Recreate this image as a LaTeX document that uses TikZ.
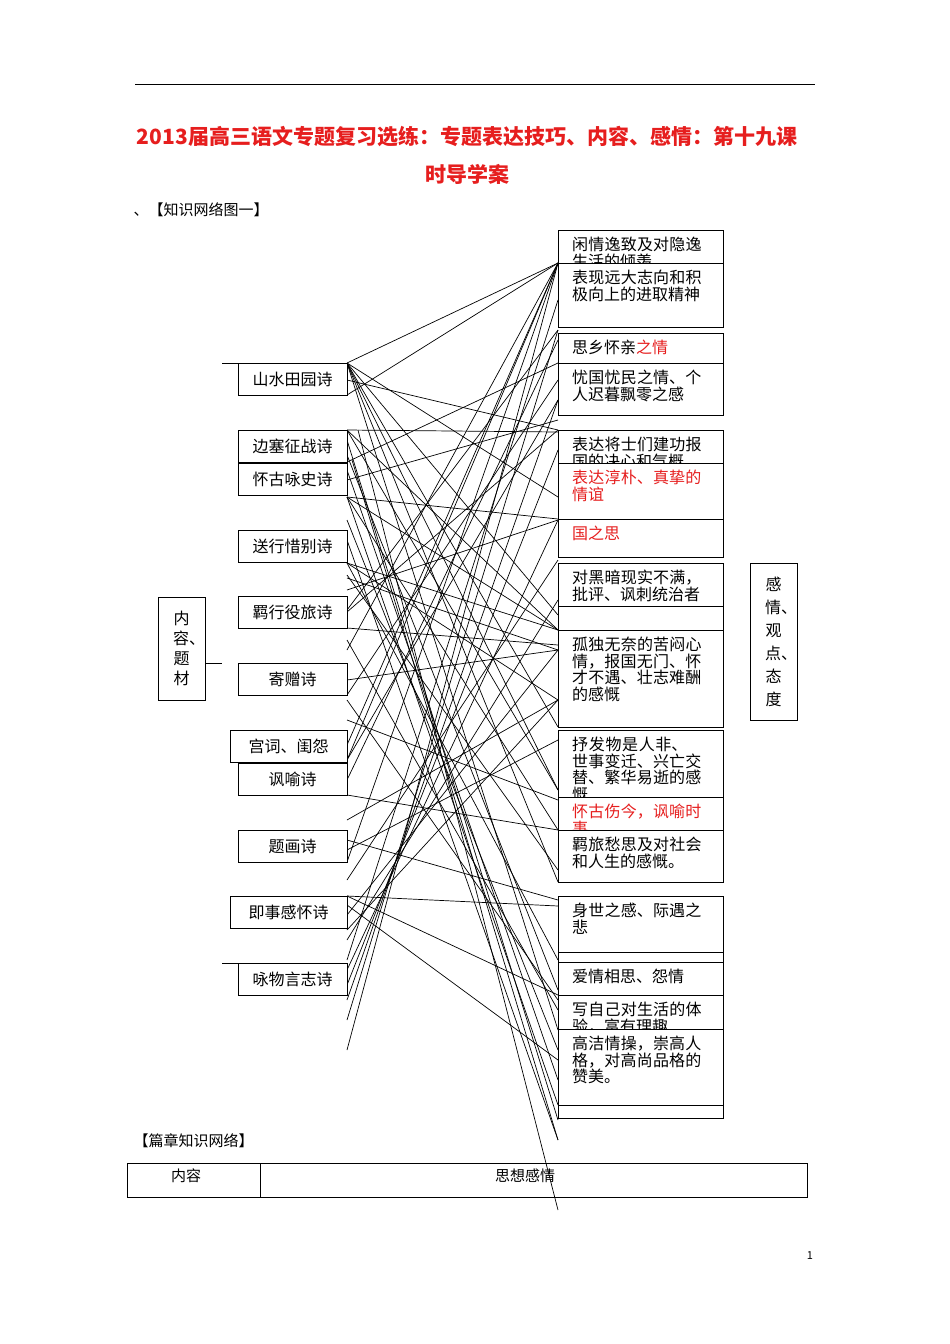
\documentclass[tikz,border=0pt]{standalone}
\usepackage{fontspec}
\setmainfont{Noto Sans CJK SC}
\XeTeXlinebreaklocale "zh"
\XeTeXlinebreakskip=0pt plus 1pt
\begin{document}
\begin{tikzpicture}[x=1pt,y=-1pt,
  lb/.style={draw,fill=white,minimum height=32pt,inner sep=0pt,font=\fontsize{16}{17}\selectfont},
  rt/.style={anchor=north west,inner sep=0pt,text width=136pt,align=left,font=\fontsize{16}{16.5}\selectfont},
  vb/.style={draw,minimum width=47pt,text width=17pt,align=center,inner sep=0pt},
  ln/.style={line width=0.7pt}]
\useasboundingbox (0,0) rectangle (950,1344);
\definecolor{tred}{RGB}{230,30,30}
\draw[line width=0.8pt] (135,84) -- (815,84);
\node[font=\bfseries\fontsize{21}{24}\selectfont,text=tred] (t1) at (467,137) {2013届高三语文专题复习选练：专题表达技巧、内容、感情：第十九课};
\node[font=\bfseries\fontsize{21}{24}\selectfont,text=tred] (t2) at (467,174) {时导学案};
\node[anchor=west,font=\fontsize{15}{17}\selectfont] (h1) at (130,210) {、【知识网络图一】};
% connectors
\foreach \a/\b in {363/263,363/497,363/615,363/727,363/790,363/882,363/1030,380/430,395/263,
 430/432,430/630,430/790,440/1120,462/363,497/519,497/630,497/830,497/1105,480/420,
 563/630,563/700,563/960,578/650,590/520,628/645,612/430,
 680/650,695/380,700/1000,745/263,760/400,780/340,
 795/830,840/900,862/263,880/560,896/906,896/995,905/1060,930/700,
 960/300,1000/400,1050/263,1020/330,985/450,970/520,940/600,915/650,
 820/700,850/740,760/263,720/800,650/263,610/330,540/1140,520/1050,470/1080,455/990,640/1010,575/870}
  \draw[ln] (347,\a) -- (558,\b);
\draw[ln] (358,430) -- (558,1210);
\draw[ln] (352,460) -- (558,1140);
\draw[ln] (222,363) -- (238,363);
\draw[ln] (222,963) -- (238,963);
\draw[ln] (205,663) -- (222,663);
% left boxes
\node[lb,minimum width=109pt] (s1) at (292.5,379) {山水田园诗};
\node[lb,minimum width=109pt] (s2) at (292.5,446) {边塞征战诗};
\node[lb,minimum width=109pt] (s3) at (292.5,479) {怀古咏史诗};
\node[lb,minimum width=109pt] (s4) at (292.5,546) {送行惜别诗};
\node[lb,minimum width=109pt] (s5) at (292.5,612) {羁行役旅诗};
\node[lb,minimum width=109pt] (s6) at (292.5,679) {寄赠诗};
\node[lb,minimum width=117pt] (s7) at (288.5,746) {宫词、闺怨};
\node[lb,minimum width=109pt] (s8) at (292.5,779) {讽喻诗};
\node[lb,minimum width=109pt] (s9) at (292.5,846) {题画诗};
\node[lb,minimum width=117pt] (s10) at (288.5,912) {即事感怀诗};
\node[lb,minimum width=109pt] (s11) at (292.5,979) {咏物言志诗};
\node[vb,minimum height=103pt,font=\fontsize{16}{20}\selectfont] (L) at (181.5,648.5) {内\\容、\\题\\材};
\node[vb,minimum height=157pt,font=\fontsize{16}{23}\selectfont] (R) at (773.5,641.5) {感\\情、\\观\\点、\\态\\度};
% right boxes
\foreach \t/\b/\txt in {230/263/{闲情逸致及对隐逸生活的倾羡},263/327/{表现远大志向和积极向上的进取精神},333/363/{思乡怀亲\textcolor{tred}{之情}},363/415/{忧国忧民之情、个人迟暮飘零之感},430/463/{表达将士们建功报国的决心和气概},463/519/{\textcolor{tred}{表达淳朴、真挚的情谊}},519/557/{\textcolor{tred}{国之思}},563/615/{对黑暗现实不满，批评、讽刺统治者},606/630/{},630/727/{孤独无奈的苦闷心情，报国无门、怀才不遇、壮志难酬的感慨},730/797/{抒发物是人非、世事变迁、兴亡交替、繁华易逝的感慨},797/830/{\textcolor{tred}{怀古伤今，讽喻时事}},830/882/{羁旅愁思及对社会和人生的感慨。},896/952/{身世之感、际遇之悲},952/962/{},962/995/{爱情相思、怨情},995/1029/{写自己对生活的体验，富有理趣},1029/1105/{高洁情操，崇高人格，对高尚品格的赞美。},1105/1118/{}}
{
  \fill[white] (558,\t) rectangle (723,\b);
  \begin{scope}
  \clip (558,\t) rectangle (723,\b);
  \node[rt] at (572,\t+7) {\txt};
  \end{scope}
  \draw[line width=0.8pt] (558,\t) rectangle (723,\b);
}
% bottom
\node[anchor=west,font=\fontsize{15}{17}\selectfont] (h2) at (130,1141) {【篇章知识网络】};
\draw[line width=0.8pt] (127,1163) rectangle (807,1197);
\draw[line width=0.8pt] (260,1163) -- (260,1197);
\node[font=\fontsize{15}{17}\selectfont] (c1) at (186,1176) {内容};
\node[font=\fontsize{15}{17}\selectfont] (c2) at (525,1176) {思想感情};
\node[font=\fontsize{11}{13}\selectfont] (p) at (810,1256) {1};
\end{tikzpicture}
\end{document}
